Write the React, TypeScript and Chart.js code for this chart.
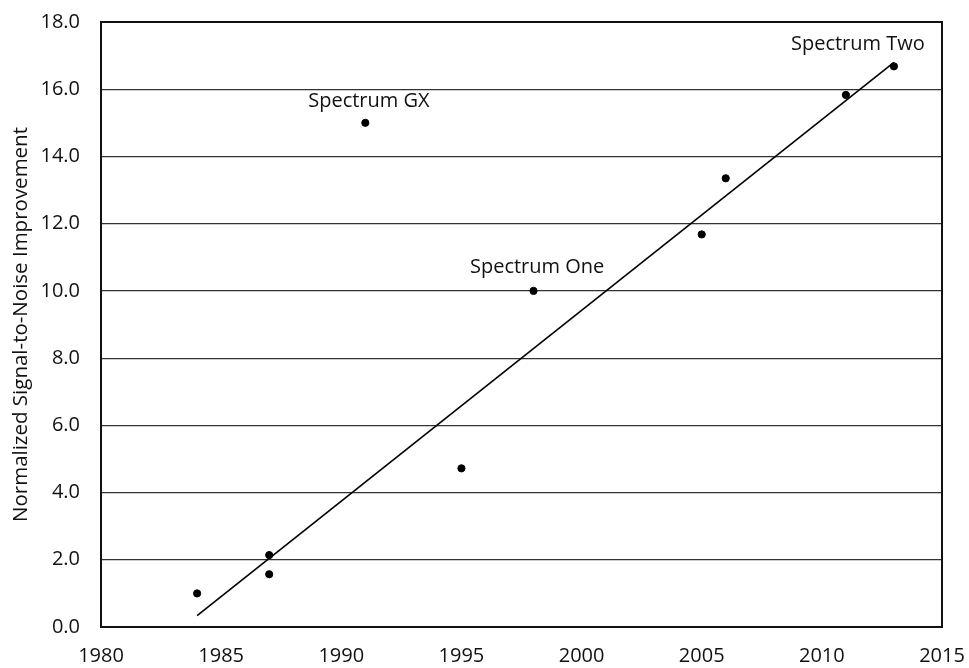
import React, { useEffect, useRef } from "react";
import { Chart, registerables } from "chart.js";

Chart.register(...registerables);

const years = [1984, 1987, 1987, 1991, 1995, 1998, 2005, 2006, 2011, 2013];
const snr = [1.0, 2.14, 1.57, 15.0, 4.72, 10.0, 11.68, 13.35, 15.83, 16.68];

const trendYears = [1984, 2013];
const trendValues = [0.34, 16.8];

const labelNames = ["Spectrum GX", "Spectrum One", "Spectrum Two"];
const labelYears = [1991.15, 1998.15, 2011.5];
const labelValues = [15.65, 10.7, 17.35];

const xTicks = [1980, 1985, 1990, 1995, 2000, 2005, 2010, 2015];
const yTicks = [0, 2, 4, 6, 8, 10, 12, 14, 16, 18];

const FONT = "'Open Sans', 'Noto Sans', sans-serif";

const annotationPlugin = {
  id: "annot",
  afterDatasetsDraw(chart: any) {
    const { ctx, chartArea, scales } = chart;
    ctx.save();
    ctx.strokeStyle = "#111";
    ctx.lineWidth = 2;
    ctx.strokeRect(chartArea.left, chartArea.top, chartArea.right - chartArea.left, chartArea.bottom - chartArea.top);
    ctx.fillStyle = "#111";
    ctx.font = `20px ${FONT}`;
    ctx.textAlign = "center";
    ctx.textBaseline = "middle";
    labelNames.forEach((name, i) => {
      const x = scales.x.getPixelForValue(labelYears[i]);
      const y = scales.y.getPixelForValue(labelValues[i]);
      ctx.fillText(name, x, y);
    });
    ctx.restore();
  },
};

export default function App() {
  const ref = useRef<HTMLCanvasElement>(null);
  useEffect(() => {
    document.body.style.margin = "0";
    const chart = new Chart(ref.current!, {
      type: "scatter",
      data: {
        datasets: [
          {
            label: "S/N",
            data: years.map((x, i) => ({ x, y: snr[i] })),
            backgroundColor: "#000",
            borderColor: "#000",
            pointRadius: 3.6,
            pointHoverRadius: 3.6,
            showLine: false,
          },
          {
            label: "Trend",
            data: trendYears.map((x, i) => ({ x, y: trendValues[i] })),
            borderColor: "#000",
            borderWidth: 1.6,
            pointRadius: 0,
            showLine: true,
          },
        ],
      },
      options: {
        animation: false,
        responsive: false,
        maintainAspectRatio: false,
        layout: { padding: { top: 22, right: 27, left: 0, bottom: 0 } },
        plugins: { legend: { display: false }, tooltip: { enabled: false } },
        scales: {
          x: {
            type: "linear",
            min: 1980,
            max: 2015,
            afterBuildTicks: (s: any) => {
              s.ticks = xTicks.map((v) => ({ value: v }));
            },
            afterFit: (s: any) => {
              s.height = 41;
              s.paddingLeft = 0;
              s.paddingRight = 0;
              s.paddingTop = 0;
              s.paddingBottom = 0;
            },
            ticks: {
              color: "#111",
              font: { family: FONT, size: 20 },
              padding: 17,
              maxRotation: 0,
              callback: (v: any) => String(v),
            },
            grid: { display: false, drawTicks: false },
            border: { display: false },
          },
          y: {
            min: 0,
            max: 18,
            afterBuildTicks: (s: any) => {
              s.ticks = yTicks.map((v) => ({ value: v }));
            },
            afterFit: (s: any) => {
              s.width = 101;
              s.paddingLeft = 0;
              s.paddingRight = 0;
              s.paddingTop = 0;
              s.paddingBottom = 0;
            },
            ticks: {
              color: "#111",
              font: { family: FONT, size: 20 },
              padding: 21,
              callback: (v: any) => Number(v).toFixed(1),
            },
            grid: { color: "#333", lineWidth: 1.2, drawTicks: false },
            border: { display: false },
            title: {
              display: true,
              text: "Normalized Signal-to-Noise Improvement",
              color: "#111",
              font: { family: FONT, size: 20.5 },
              padding: { top: 9, bottom: 0 },
            },
          },
        },
      },
      plugins: [annotationPlugin],
    });
    return () => chart.destroy();
  }, []);
  return (
    <div style={{ position: "absolute", left: 0, top: 0, width: 969, height: 668, background: "#fff" }}>
      <canvas ref={ref} width={969} height={668} style={{ width: 969, height: 668 }} />
    </div>
  );
}
